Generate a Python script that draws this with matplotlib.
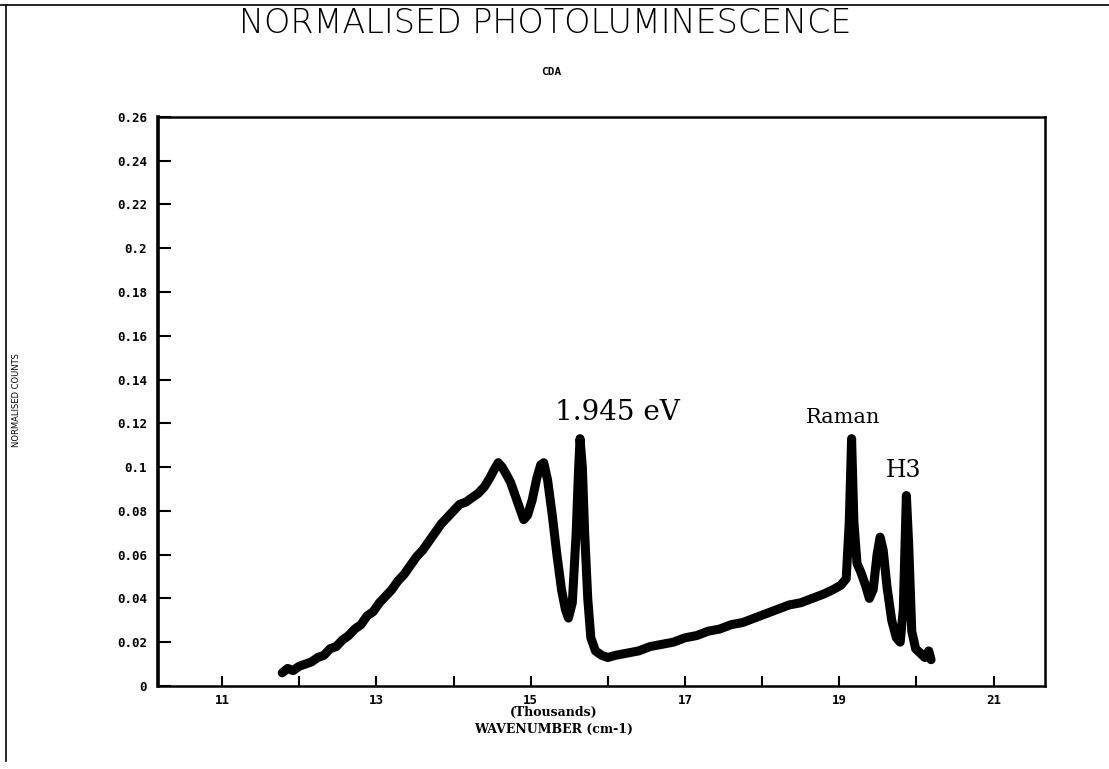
import matplotlib
matplotlib.use('Agg')

import matplotlib.pyplot as plt
from matplotlib.lines import Line2D
from matplotlib.ticker import MultipleLocator, FixedLocator

# wavenumber in thousands of cm-1, normalised counts
wavenumber = [11.78, 11.85, 11.92, 12.00, 12.08, 12.16, 12.24, 12.32, 12.40, 12.48,
              12.56, 12.64, 12.72, 12.80, 12.88, 12.96, 13.04, 13.12, 13.20, 13.28,
              13.36, 13.44, 13.52, 13.60, 13.68, 13.76, 13.84, 13.92, 14.00, 14.08,
              14.16, 14.24, 14.32, 14.40, 14.47, 14.53, 14.58, 14.63, 14.68, 14.74,
              14.80, 14.86, 14.91, 14.96, 15.02, 15.08, 15.13, 15.17, 15.22, 15.28,
              15.34, 15.40, 15.45, 15.49, 15.54, 15.59, 15.62, 15.64, 15.67, 15.70,
              15.74, 15.78, 15.84, 15.92, 16.00, 16.10, 16.25, 16.40, 16.55, 16.70,
              16.85, 17.00, 17.15, 17.30, 17.45, 17.60, 17.75, 17.90, 18.05, 18.20,
              18.35, 18.50, 18.65, 18.80, 18.92, 19.02, 19.09, 19.13, 19.16, 19.19,
              19.23, 19.28, 19.34, 19.39, 19.44, 19.49, 19.53, 19.57, 19.62, 19.68,
              19.74, 19.79, 19.83, 19.87, 19.90, 19.94, 19.99, 20.05, 20.11, 20.16, 20.19]
counts = [0.006, 0.008, 0.007, 0.009, 0.010, 0.011, 0.013, 0.014, 0.017, 0.018,
          0.021, 0.023, 0.026, 0.028, 0.032, 0.034, 0.038, 0.041, 0.044, 0.048,
          0.051, 0.055, 0.059, 0.062, 0.066, 0.070, 0.074, 0.077, 0.080, 0.083,
          0.084, 0.086, 0.088, 0.091, 0.095, 0.099, 0.102, 0.100, 0.097, 0.093,
          0.087, 0.081, 0.076, 0.078, 0.085, 0.095, 0.101, 0.102, 0.094, 0.078,
          0.060, 0.044, 0.035, 0.031, 0.038, 0.070, 0.098, 0.113, 0.100, 0.070,
          0.040, 0.022, 0.016, 0.014, 0.013, 0.014, 0.015, 0.016, 0.018, 0.019,
          0.020, 0.022, 0.023, 0.025, 0.026, 0.028, 0.029, 0.031, 0.033, 0.035,
          0.037, 0.038, 0.040, 0.042, 0.044, 0.046, 0.049, 0.075, 0.113, 0.075,
          0.056, 0.052, 0.046, 0.040, 0.044, 0.060, 0.068, 0.062, 0.045, 0.030,
          0.022, 0.020, 0.035, 0.087, 0.065, 0.025, 0.017, 0.015, 0.013, 0.016, 0.012]

peak_labels = ['1.945 eV', 'Raman', 'H3']
peak_x = [15.32, 18.57, 19.60]
peak_y = [0.1215, 0.1200, 0.0955]
peak_size = [20, 15, 17]

y_ticks = [0, 0.02, 0.04, 0.06, 0.08, 0.1, 0.12, 0.14, 0.16, 0.18, 0.2, 0.22, 0.24, 0.26]
x_ticks = [11, 13, 15, 17, 19, 21]

fig = plt.figure(figsize=(11.09, 7.69), dpi=100)
ax = fig.add_axes([0.1425, 0.108, 0.80, 0.740])

# several overlapping scans in the original -> a thick band
ax.plot(wavenumber, counts, color='black', lw=6.5, solid_joinstyle='round',
        solid_capstyle='round')

for lab, px, py, fs in zip(peak_labels, peak_x, peak_y, peak_size):
    ax.text(px, py, lab, fontsize=fs, family='DejaVu Serif', ha='left', va='baseline')

ax.set_xlim(10.17, 21.67)
ax.set_ylim(0, 0.26)
ax.xaxis.set_major_locator(FixedLocator(x_ticks))
ax.xaxis.set_minor_locator(MultipleLocator(1))
ax.yaxis.set_major_locator(FixedLocator(y_ticks))
ax.set_yticklabels(['0' if v == 0 else ('%g' % v) for v in y_ticks])
ax.tick_params(axis='y', direction='in', length=9, width=1.5, right=False, pad=8,
               labelsize=9)
ax.tick_params(axis='x', which='both', direction='in', length=7, width=1.5, top=False,
               pad=6, labelsize=9)
for lbl in ax.get_xticklabels() + ax.get_yticklabels():
    lbl.set_family('DejaVu Sans Mono')
    lbl.set_fontweight('bold')
for s in ax.spines.values():
    s.set_linewidth(1.8)
ax.spines['left'].set_linewidth(2.6)

fig.text(0.492, 0.970, 'NORMALISED PHOTOLUMINESCENCE', ha='center', va='center',
         fontsize=24, family='DejaVu Sans', fontweight='light')
fig.text(0.497, 0.906, 'CDA', ha='center', va='center', fontsize=8,
         family='DejaVu Sans Mono', fontweight='bold')
fig.text(0.499, 0.073, '(Thousands)', ha='center', va='center', fontsize=9,
         family='DejaVu Serif', fontweight='bold')
fig.text(0.499, 0.051, 'WAVENUMBER (cm-1)', ha='center', va='center', fontsize=9,
         family='DejaVu Serif', fontweight='bold')
fig.text(0.0145, 0.48, 'NORMALISED COUNTS', ha='center', va='center', fontsize=6,
         rotation=90, family='DejaVu Sans')

# page border of the scan
fig.add_artist(Line2D([0.0, 1.0], [0.994, 0.994], color='black', lw=1.2))
fig.add_artist(Line2D([0.005, 0.005], [0.994, 0.01], color='black', lw=1.2))

fig.savefig('out.png', dpi=100)
plt.close(fig)
